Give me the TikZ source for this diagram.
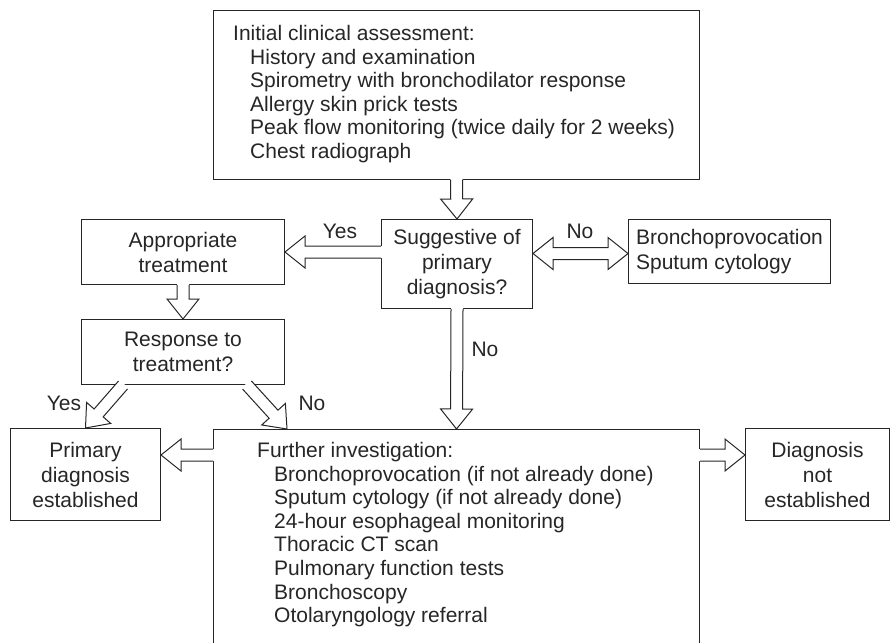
\documentclass[tikz,border=0pt]{standalone}
\usepackage{fontspec}
\setmainfont{Liberation Sans}
\usetikzlibrary{calc,positioning}

\newcommand{\boxfont}{\fontsize{21}{25}\selectfont}
\newcommand{\listfont}{\fontsize{21}{23.6}\selectfont}
\newcommand{\ind}{\hspace*{17pt}}

% hollow block arrow, open at its start
\newcommand{\fatarrow}[2]{%
  \coordinate (fs) at #1;
  \coordinate (ft) at #2;
  \coordinate (fb) at ($(ft)!20pt!(fs)$);
  \coordinate (fo) at ($(fs)!-1.5pt!(ft)$);
  \fill[white] ($(fo)!6pt!90:(ft)$) -- ($(fb)!6pt!90:(ft)$) -- ($(fb)!16pt!90:(ft)$) -- (ft)
    -- ($(fb)!16pt!-90:(ft)$) -- ($(fb)!6pt!-90:(ft)$) -- ($(fo)!6pt!-90:(ft)$) -- cycle;
  \draw[blk] ($(fs)!6pt!90:(ft)$) -- ($(fb)!6pt!90:(ft)$) -- ($(fb)!16pt!90:(ft)$) -- (ft)
    -- ($(fb)!16pt!-90:(ft)$) -- ($(fb)!6pt!-90:(ft)$) -- ($(fs)!6pt!-90:(ft)$);
}
% hollow block arrow, heads at both ends
\newcommand{\fatdarrow}[2]{%
  \coordinate (fs) at #1;
  \coordinate (ft) at #2;
  \coordinate (fa) at ($(fs)!20pt!(ft)$);
  \coordinate (fb) at ($(ft)!20pt!(fs)$);
  \draw[blk,fill=white] (fs) -- ($(fa)!16pt!90:(ft)$) -- ($(fa)!6pt!90:(ft)$) -- ($(fb)!6pt!90:(ft)$)
    -- ($(fb)!16pt!90:(ft)$) -- (ft) -- ($(fb)!16pt!-90:(ft)$) -- ($(fb)!6pt!-90:(ft)$)
    -- ($(fa)!6pt!-90:(ft)$) -- ($(fa)!16pt!-90:(ft)$) -- cycle;
}

\begin{document}
\begin{tikzpicture}[x=1pt,y=-1pt,
    blk/.style={line width=1pt,draw=black!85},
    box/.style={blk,rectangle,inner sep=0pt,anchor=north west,font=\boxfont,align=center,text=black!85},
    lab/.style={inner sep=0pt,font=\boxfont,text=black!85},
    list/.style={lab,anchor=north west,align=left,font=\listfont}]
\useasboundingbox (0,0) rectangle (890,642);

\node[box,minimum width=486pt,minimum height=169pt] (init) at (213,10) {};
\node[list] (inittxt) at (233,25)
  {Initial clinical assessment:\\
   \ind History and examination\\
   \ind Spirometry with bronchodilator response\\
   \ind Allergy skin prick tests\\
   \ind Peak flow monitoring (twice daily for 2 weeks)\\
   \ind Chest radiograph};
\node[box,minimum width=151pt,minimum height=89pt] (sugg) at (381,219) {Suggestive of\\primary\\diagnosis?};
\node[box,minimum width=203pt,minimum height=65pt] (appr) at (81,219) {Appropriate\\treatment};
\node[box,minimum width=203pt,minimum height=65pt] (resp) at (81,319) {Response to\\treatment?};
\node[box,minimum width=202pt,minimum height=64pt,align=left] (bron) at (628,219) {Bronchoprovocation\\Sputum cytology};
\node[box,minimum width=150pt,minimum height=92pt] (prim) at (10,428) {Primary\\diagnosis\\established};
\node[box,minimum width=144pt,minimum height=92pt] (diag) at (745,428) {Diagnosis\\not\\established};
\node[box,minimum width=486pt,minimum height=240pt] (furth) at (213,429) {};
\node[list] (furthtxt) at (257,442)
  {Further investigation:\\
   \ind Bronchoprovocation (if not already done)\\
   \ind Sputum cytology (if not already done)\\
   \ind 24-hour esophageal monitoring\\
   \ind Thoracic CT scan\\
   \ind Pulmonary function tests\\
   \ind Bronchoscopy\\
   \ind Otolaryngology referral};

% arrows
\fatarrow{(init.south)}{(sugg.north)}
\fatarrow{(sugg.west |- appr.east)}{(appr.east)}
\coordinate (bw) at ([yshift=-2pt]bron.west);
\fatdarrow{(sugg.east |- bw)}{(bw)}
\fatarrow{(appr.south)}{(resp.north)}
\fatarrow{(sugg.south)}{(furth.north)}
\fatarrow{([xshift=42pt]resp.south west)}{(prim.north)}
\fatarrow{([xshift=-38pt]resp.south east)}{([xshift=74pt]furth.north west)}
\coordinate (fw) at ([yshift=-26pt]furth.north west);
\fatarrow{(fw)}{(prim.east |- fw)}
\coordinate (fe) at ([yshift=-26pt]furth.north east);
\fatarrow{(fe)}{(diag.west |- fe)}

% labels
\node[lab] (yes1) at (340,231) {Yes};
\node[lab] (no1) at (580,231) {No};
\node[lab] (no2) at (485,349) {No};
\node[lab] (yes2) at (64,403) {Yes};
\node[lab] (no3) at (312,403) {No};
\end{tikzpicture}
\end{document}
